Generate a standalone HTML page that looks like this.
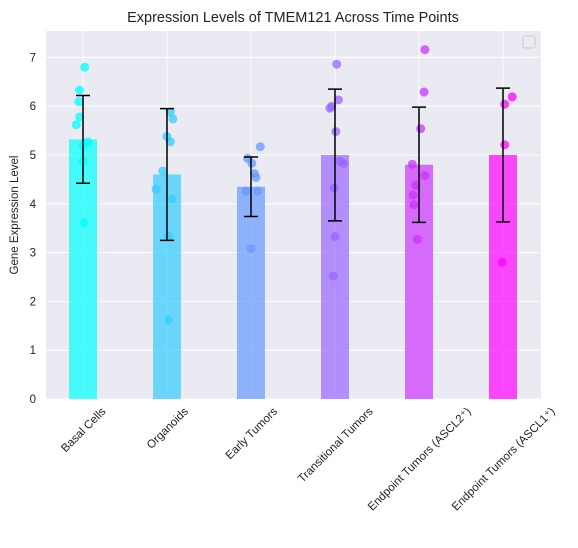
<!DOCTYPE html>
<html><head><meta charset="utf-8"><style>
body{margin:0;background:#fff;font-family:"Liberation Sans","DejaVu Sans",sans-serif;}
svg{display:block}
</style></head><body>
<svg id="chart" width="578" height="548" viewBox="0 0 578 548">
<text x="293" y="22" text-anchor="middle" font-size="14.5" fill="#222">Expression Levels of TMEM121 Across Time Points</text>
<rect x="46" y="31" width="495" height="368" fill="#eaeaf2"/>
<g id="grid"></g><g id="bars"></g><g id="pts"></g><g id="errs"></g><g id="axes"></g>
<rect x="523" y="36" width="12" height="12" rx="2" fill="none" stroke="#ccc"/>
<text transform="translate(18,215) rotate(-90)" text-anchor="middle" font-size="11.5" fill="#222">Gene Expression Level</text>
</svg>
<script>
const categories=["Basal Cells","Organoids","Early Tumors","Transitional Tumors","Endpoint Tumors (ASCL2\u207a)","Endpoint Tumors (ASCL1\u207a)"];
const means=[5.32,4.6,4.35,5.0,4.8,5.0];
const sds=[0.9,1.35,0.61,1.35,1.18,1.37];
const yTicks=[0,1,2,3,4,5,6,7];
const pointVals=[
[6.8,6.33,6.09,5.62,5.78,5.27,5.2,4.87,3.61],
[5.88,5.74,5.38,5.27,4.67,4.3,4.1,3.33,1.62],
[4.93,4.83,5.17,4.62,4.54,4.26,4.26,3.08],
[6.86,6.13,6.0,5.96,5.48,4.87,4.83,4.32,3.33,2.52],
[7.16,6.29,5.54,4.81,4.58,4.38,4.18,3.98,3.27],
[6.19,6.04,5.21,2.8]];
const pointJitter=[
[0.02,-0.04,-0.05,-0.08,-0.04,0.06,0,0,0.01],
[0.04,0.07,0,0.04,-0.05,-0.13,0.06,0.02,0.02],
[-0.04,0.01,0.11,0.04,0.06,-0.06,0.08,0],
[0.02,0.04,-0.04,-0.06,0.01,0.06,0.1,-0.01,0,-0.02],
[0.07,0.06,0.02,-0.08,0.07,-0.04,-0.07,-0.06,-0.02],
[0.11,0.02,0.02,-0.01]];
const NS="http://www.w3.org/2000/svg";
const X=i=>83+84*i, Y=v=>399-48.8*v;
function mk(p,t,a){const e=document.createElementNS(NS,t);for(const k in a)e.setAttribute(k,a[k]);document.getElementById(p).appendChild(e);return e;}
function col(i,a){const t=i/5;return `rgba(${Math.round(255*t)},${Math.round(255*(1-t))},255,${a})`;}
yTicks.forEach(v=>{
 const g=mk('grid','line',{x1:46,x2:541,y1:Y(v),y2:Y(v),stroke:'#fff','stroke-width':1});
 
 const t=mk('axes','text',{x:36,y:Y(v)+4,'text-anchor':'end','font-size':11.5,fill:'#222'});t.textContent=v;
 
});
categories.forEach((c,i)=>{
 const g=mk('grid','line',{x1:X(i),x2:X(i),y1:31,y2:399,stroke:'#fff','stroke-width':1});
 
 const b=mk('bars','rect',{x:X(i)-14,y:Y(means[i]),width:28,height:Y(0)-Y(means[i]),fill:col(i,0.7)});
 
 pointVals[i].forEach((v,j)=>{const p=mk('pts','circle',{cx:X(i+(pointJitter[i][j]||0)),cy:Y(v),r:4.5,fill:col(i,0.75)});
  });
 const lo=Y(means[i]-sds[i]),hi=Y(means[i]+sds[i]);
 const e=mk('errs','path',{d:`M${X(i)},${lo}V${hi}M${X(i)-7},${lo}H${X(i)+7}M${X(i)-7},${hi}H${X(i)+7}`,stroke:'#000','stroke-width':1.5,fill:'none'});
 
 const t=mk('axes','text',{'text-anchor':'middle','font-size':11.5,fill:'#222'});t.textContent=c;
 
 const w=t.getComputedTextLength();
 const cy=405+w*0.354+4;
 t.setAttribute('transform',`translate(${X(i)+3},${cy+3}) rotate(-45)`);
});
</script>
</body></html>
